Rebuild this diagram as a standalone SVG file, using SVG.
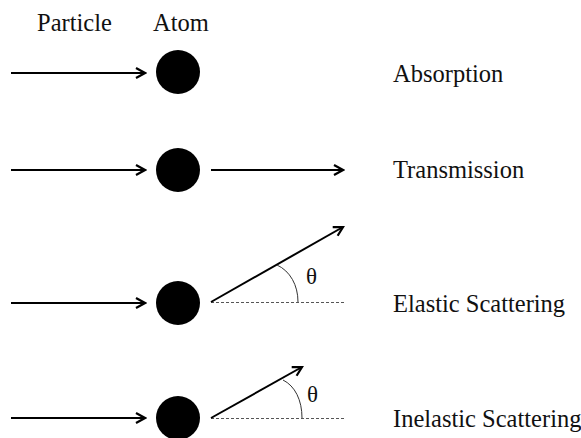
<svg xmlns="http://www.w3.org/2000/svg" width="581" height="438" viewBox="0 0 581 438">
<style>
text{font-family:"Liberation Serif","Times New Roman",serif;font-size:24.5px;fill:#111}
.theta{font-size:23px}
.arr{stroke:#000;stroke-width:2;fill:none;marker-end:url(#ah)}
.dash{stroke:#555;stroke-width:1;stroke-dasharray:3 2;fill:none}
.arc{stroke:#333;stroke-width:1;fill:none}
.atom{fill:#000}
</style>
<defs>
<marker id="ah" viewBox="-12 -7 14 14" refX="0" refY="0" markerWidth="14" markerHeight="14" orient="auto" markerUnits="userSpaceOnUse">
<path d="M-9,-5 L0,0 L-9,5" fill="none" stroke="#000" stroke-width="2.2"/>
</marker>
</defs>
<g id="headers">
<text x="37" y="31">Particle</text>
<text x="153" y="31">Atom</text>
</g>
<g id="atom-absorption"><circle class="atom" cx="178" cy="72" r="22"/></g>
<g id="atom-transmission"><circle class="atom" cx="178" cy="170" r="22"/></g>
<g id="atom-elastic"><circle class="atom" cx="178" cy="303" r="22"/></g>
<g id="atom-inelastic"><circle class="atom" cx="178" cy="418" r="22"/></g>
<g id="connectors">
<line class="arr" x1="11" y1="73" x2="145" y2="73"/>
<line class="arr" x1="11" y1="170" x2="145" y2="170"/>
<line class="arr" x1="211" y1="170" x2="343" y2="170"/>
<line class="arr" x1="11" y1="303" x2="145" y2="303"/>
<line class="dash" x1="211" y1="302.5" x2="344" y2="302.5"/>
<line class="arr" x1="211" y1="302" x2="343" y2="227"/>
<path class="arc" d="M277,265 C290,271 298,285 298,302"/>
<line class="arr" x1="11" y1="418" x2="145" y2="418"/>
<line class="dash" x1="211" y1="418.5" x2="344" y2="418.5"/>
<line class="arr" x1="211" y1="418" x2="302" y2="367"/>
<path class="arc" d="M283,380 C295,386 302,400 302,418"/>
</g>
<g id="labels">
<text class="theta" x="306" y="284">θ</text>
<text class="theta" x="307" y="402">θ</text>
<text x="393" y="82">Absorption</text>
<text x="393" y="178">Transmission</text>
<text x="393" y="312">Elastic Scattering</text>
<text x="393" y="427">Inelastic Scattering</text>
</g>
</svg>
